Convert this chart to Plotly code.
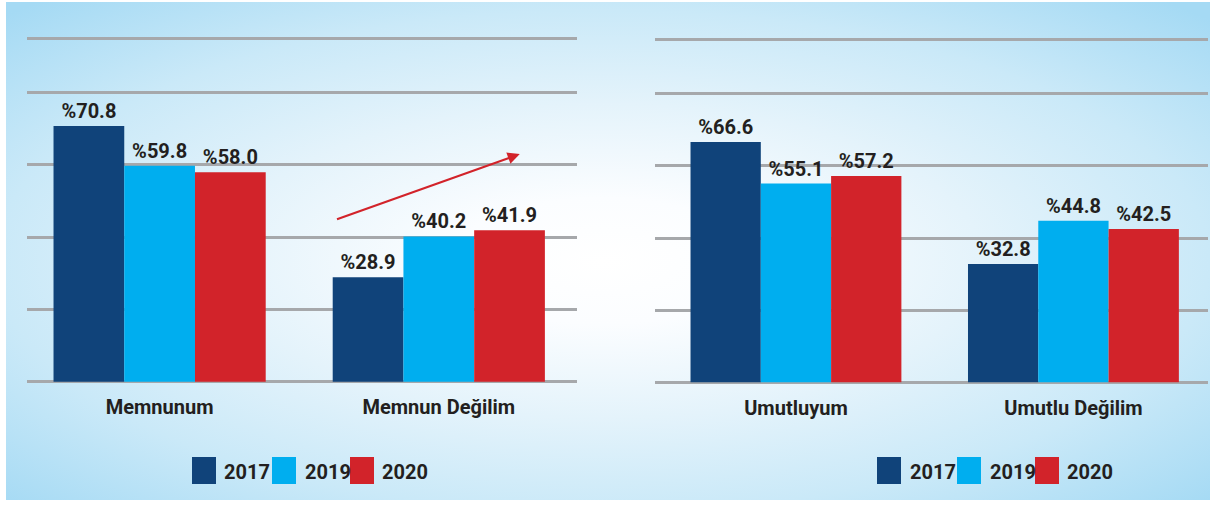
import base64
import plotly.graph_objects as go

W, H = 1210, 505

# ---------------- data ----------------
years = ["2017", "2019", "2020"]
bar_colors = ["#10437a", "#00aeef", "#d2232a"]

cats_left = ["Memnunum", "Memnun Değilim"]
left_2017 = [70.8, 28.9]
left_2019 = [59.8, 40.2]
left_2020 = [58.0, 41.9]

cats_right = ["Umutluyum", "Umutlu Değilim"]
right_2017 = [66.6, 32.8]
right_2019 = [55.1, 44.8]
right_2020 = [57.2, 42.5]

grid_vals = [0, 20, 40, 60, 80, 95]

# arrow in left panel (category units, value units)
arrow_tail = (0.63, 44.8)
arrow_head = (1.29, 63.0)

FONT = "Roboto, Liberation Sans, sans-serif"
TXT = "#231f20"


def py(p):
    return 1 - p / H


def px(p):
    return p / W


# ---------------- background ----------------
svg = f'''<svg xmlns="http://www.w3.org/2000/svg" width="{W}" height="{H}" viewBox="0 0 {W} {H}">
<defs><radialGradient id="g" cx="0.495" cy="0.52" r="0.7">
<stop offset="0" stop-color="#ffffff"/>
<stop offset="0.18" stop-color="#fbfdff"/>
<stop offset="0.45" stop-color="#e4f3fb"/>
<stop offset="0.72" stop-color="#cae9f8"/>
<stop offset="1" stop-color="#a5daf4"/>
</radialGradient></defs>
<rect x="0" y="0" width="{W}" height="{H}" fill="#ffffff"/>
<rect x="6" y="2" width="1204" height="498" fill="url(#g)"/>
</svg>'''
bg_src = "data:image/svg+xml;base64," + base64.b64encode(svg.encode()).decode()

fig = go.Figure()

left_series = [left_2017, left_2019, left_2020]
right_series = [right_2017, right_2019, right_2020]

valfont = dict(family=FONT, size=20, color=TXT, weight="bold")

for yr, col, vals in zip(years, bar_colors, left_series):
    fig.add_trace(go.Bar(
        x=cats_left, y=vals, name=yr, marker=dict(color=col, line=dict(width=0)),
        text=[f"%{v:.1f}" for v in vals], textposition="outside", textfont=valfont,
        cliponaxis=False, showlegend=False, hoverinfo="skip", xaxis="x", yaxis="y"))

for yr, col, vals in zip(years, bar_colors, right_series):
    fig.add_trace(go.Bar(
        x=cats_right, y=vals, name=yr, marker=dict(color=col, line=dict(width=0)),
        text=[f"%{v:.1f}" for v in vals], textposition="outside", textfont=valfont,
        cliponaxis=False, showlegend=False, hoverinfo="skip", xaxis="x2", yaxis="y2"))

# y mapping (pixel of zero, pixels per unit)
L0, LS = 381.7, 3.613
R0, RS = 382.3, 3.607
YMIN, YMAX = -1, 96

tickfont = dict(family=FONT, size=20, color=TXT, weight="bold")
common_x = dict(showgrid=False, zeroline=False, showline=False, ticks="",
                tickfont=tickfont, ticklabelstandoff=8, fixedrange=True)
common_y = dict(range=[YMIN, YMAX], tickvals=grid_vals, showticklabels=False,
                showgrid=True, gridcolor="#a6a8ab", gridwidth=2.5, zeroline=False,
                showline=False, ticks="", fixedrange=True)

fig.update_layout(
    width=W, height=H,
    margin=dict(l=0, r=0, t=0, b=0),
    paper_bgcolor="#ffffff", plot_bgcolor="rgba(0,0,0,0)",
    barmode="group", bargap=0.24, bargroupgap=0,
    showlegend=False,
    xaxis=dict(domain=[px(27), px(577)], range=[-0.475, 1.495], **common_x),
    xaxis2=dict(domain=[px(655), px(1208)], range=[-0.508, 1.485], anchor="y2", **common_x),
    yaxis=dict(domain=[py(L0 - YMIN * LS), py(L0 - YMAX * LS)], **common_y),
    yaxis2=dict(domain=[py(R0 - YMIN * RS), py(R0 - YMAX * RS)], anchor="x2", **common_y),
    images=[dict(source=bg_src, xref="paper", yref="paper", x=0, y=1,
                 sizex=1, sizey=1, sizing="stretch", layer="below")],
)

# arrow
fig.add_annotation(x=arrow_head[0], y=arrow_head[1], ax=arrow_tail[0], ay=arrow_tail[1],
                   xref="x", yref="y", axref="x", ayref="y", text="", showarrow=True,
                   arrowhead=2, arrowsize=1.1, arrowwidth=2.2, arrowcolor="#d2232a")

# custom legends (large squares)
legend_rows = [
    ([192, 272, 350], [222, 303, 380]),
    ([877, 957, 1035], [908, 988, 1065]),
]
SQ_W, SQ_TOP, SQ_BOT = 24, 457, 484
for sq_xs, txt_xs in legend_rows:
    for yr, col, sx, tx in zip(years, bar_colors, sq_xs, txt_xs):
        fig.add_shape(type="rect", xref="paper", yref="paper",
                      x0=px(sx), x1=px(sx + SQ_W), y0=py(SQ_BOT), y1=py(SQ_TOP),
                      fillcolor=col, line=dict(width=0))
        fig.add_annotation(x=px(tx), y=py(472), xref="paper", yref="paper",
                           text=yr, showarrow=False, xanchor="left", yanchor="middle",
                           font=dict(family=FONT, size=20, color=TXT, weight="bold"))

fig.write_html("out.html", config={"displayModeBar": False},
               post_script="document.body.style.margin='0';document.body.style.overflow='hidden';")
